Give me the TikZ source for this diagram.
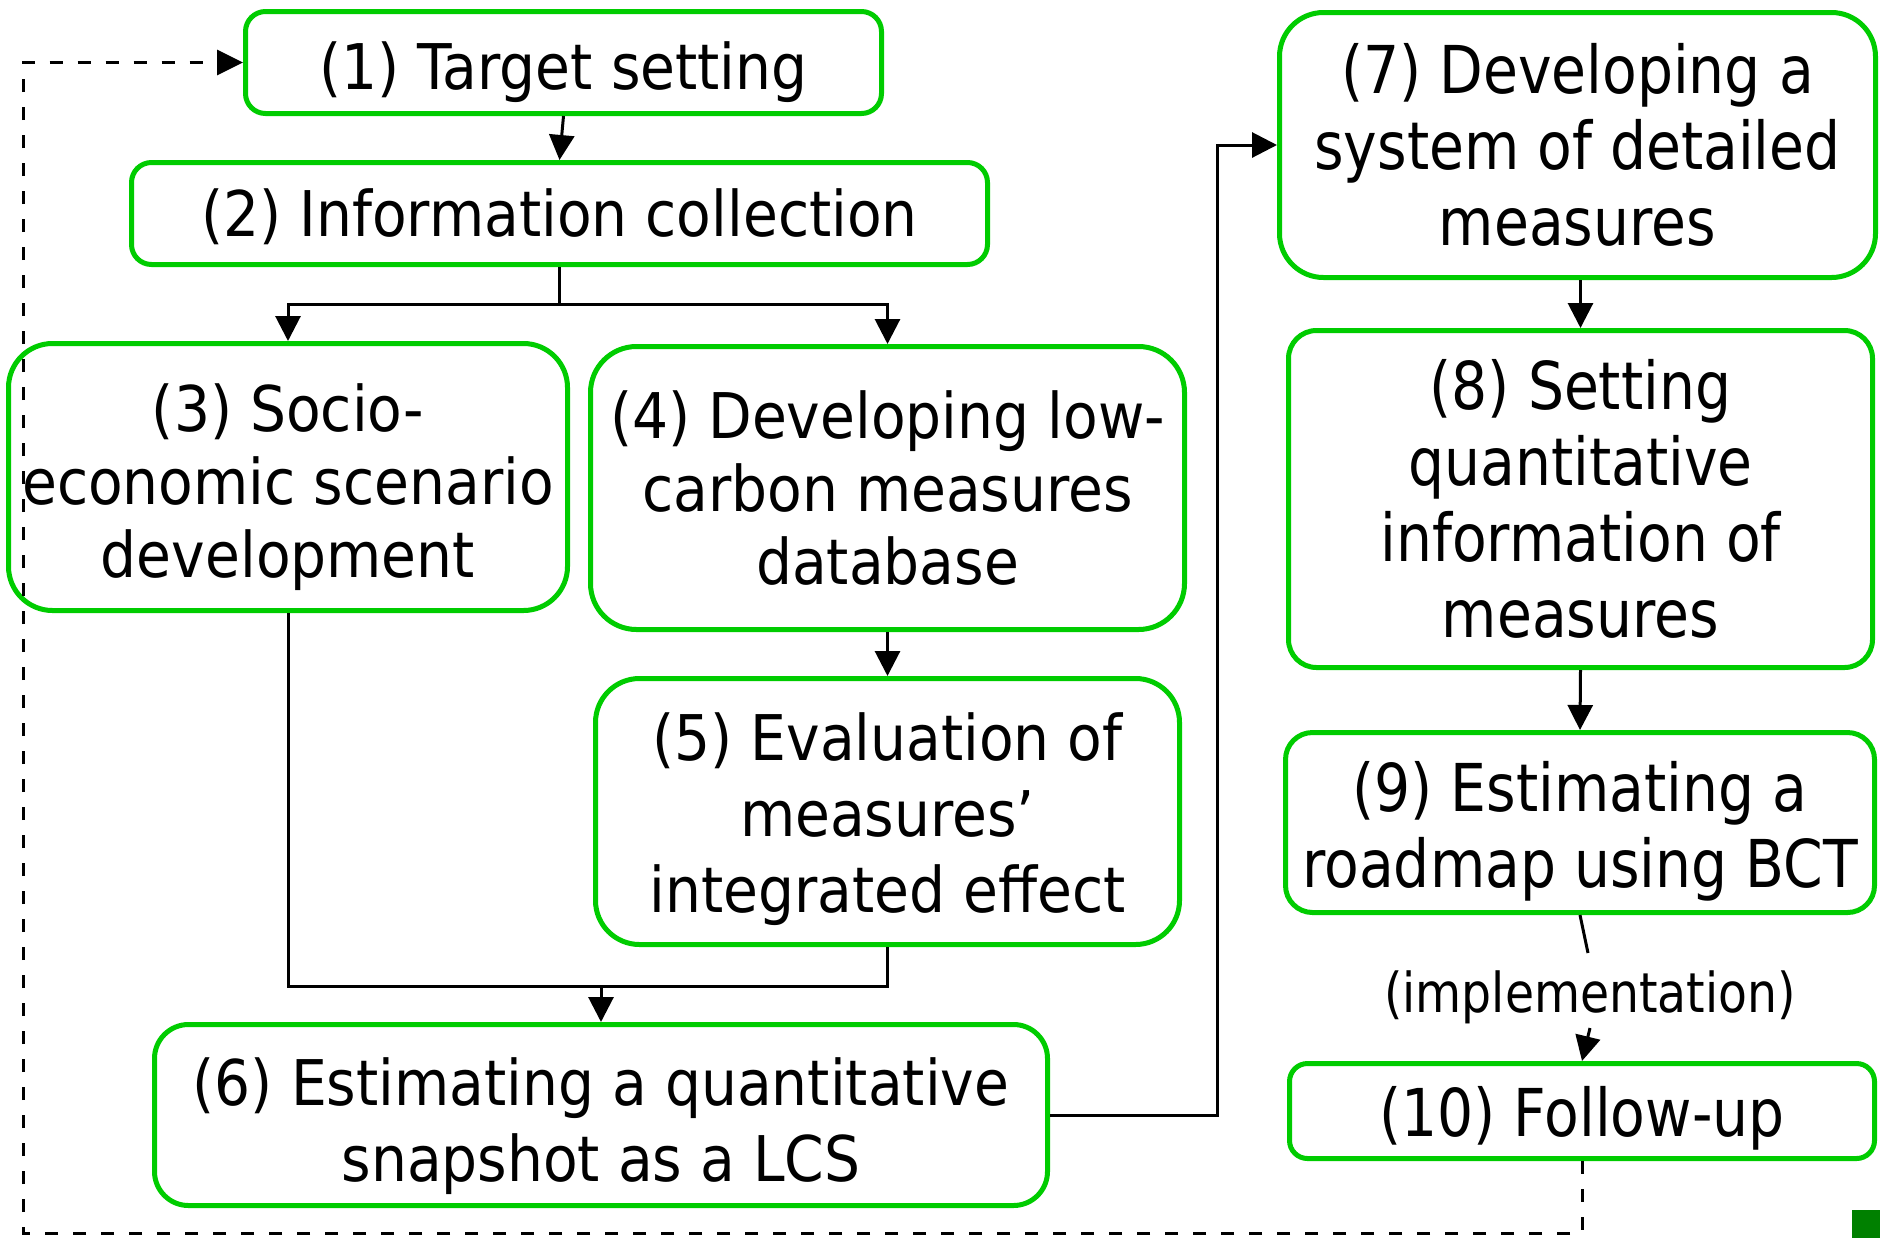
\documentclass[tikz,border=0pt]{standalone}
\usepackage{fontspec}
\setmainfont{DejaVu Sans}
\newfontfamily\lfam{DejaVu Sans}[FakeStretch=0.9]
\newfontfamily\rfam{DejaVu Sans}[FakeStretch=0.86]
\usetikzlibrary{arrows.meta}
\definecolor{boxgreen}{RGB}{0,204,0}
\definecolor{dkgreen}{RGB}{0,128,0}
\newcommand\tup[1]{\rule{0pt}{\dimexpr0.76em+#1*2\relax}}
\begin{document}
\begin{tikzpicture}[x=0.5pt,y=-0.5pt,
  box/.style={draw=boxgreen, line width=2.5pt, fill=white, align=center, inner sep=0pt},
  lft/.style={font=\lfam\fontsize{31.5}{36.5}\selectfont},
  lftw/.style={font=\lfam\fontsize{31.5}{38}\selectfont},
  rgt/.style={font=\rfam\fontsize{33}{38}\selectfont},
  conn/.style={draw=black, line width=1.5pt},
  arr/.style={conn, -{Triangle[length=12.5pt,width=12.5pt]}},
  dconn/.style={draw=black, line width=1.5pt, dash pattern=on 6.5pt off 7.5pt, -{Triangle[length=13pt,width=12.5pt]}}
]
\useasboundingbox (0,0) rectangle (1880,1238);

% left column
\node[box, lft, minimum width=318pt, minimum height=51pt, rounded corners=10pt] (n1) at (563.5,62.5) {\tup{4.8pt}(1) Target setting};
\node[box, lft, minimum width=428pt, minimum height=51pt, rounded corners=10pt] (n2) at (559.5,213.5) {\tup{1.8pt}(2) Information collection};
\node[box, lft, minimum width=279.5pt, minimum height=133.5pt, rounded corners=22pt] (n3) at (288,477) {\tup{5.1pt}(3) Socio-\\economic scenario\\development};
\node[box, lft, minimum width=297pt, minimum height=141.5pt, rounded corners=23pt] (n4) at (887.5,488) {(4) Developing low-\\carbon measures\\database};
\node[box, lftw, minimum width=292pt, minimum height=133pt, rounded corners=22pt] (n5) at (887.5,811.5) {\tup{3.9pt}(5) Evaluation of\\measures’\\integrated effect};
\node[box, lftw, minimum width=446.5pt, minimum height=90.5pt, rounded corners=17pt] (n6) at (601,1115) {\tup{5.7pt}(6) Estimating a quantitative\\snapshot as a LCS};

% right column
\node[box, rgt, minimum width=298pt, minimum height=132.5pt, rounded corners=22pt] (n7) at (1577.5,145) {(7) Developing a\\system of detailed\\measures};
\node[box, rgt, minimum width=292pt, minimum height=168.5pt, rounded corners=14pt] (n8) at (1580.5,499) {(8) Setting\\quantitative\\information of\\measures};
\node[box, rgt, minimum width=294.5pt, minimum height=90pt, rounded corners=13.5pt] (n9) at (1580,822.5) {\tup{4.2pt}(9) Estimating a\\roadmap using BCT};
\node[box, rgt, minimum width=292.5pt, minimum height=47.5pt, rounded corners=9pt] (n10) at (1582,1111) {\tup{3.6pt}(10) Follow-up};

\node[font=\rfam\fontsize{27.5}{32}\selectfont, inner sep=0pt] (lbl) at (1590,997) {(implementation)};

% connectors
\draw[arr] (n1.south) -- (n2.north);
\coordinate (split) at (559.5,304);
\draw[conn] (n2.south) -- (split);
\draw[arr] (split) -| (n3.north);
\draw[arr] (split) -| (n4.north);
\draw[arr] (n4.south) -- (n5.north);
\coordinate (merge) at (601,986);
\draw[conn] (n3.south) |- (merge);
\draw[conn] (n5.south) |- (merge);
\draw[arr] (merge) -- (n6.north);
\coordinate (c67) at (1217,600);
\draw[arr] (n6.east) -| (c67) |- (n7.west);
\draw[arr] (n7.south -| n8.north) -- (n8.north);
\draw[arr] (n8.south) -- (n9.north);
\coordinate (i1) at (1588,953);
\coordinate (i2) at (1590,1028);
\draw[conn] (n9.south) -- (i1);
\draw[arr] (i2) -- (n10.north);

% feedback dashed loop
\coordinate (dl) at (23,1233);
\draw[dconn] (n10.south) |- (dl) |- (n1.west);

\fill[dkgreen] (1852,1210) rectangle (1880,1238);
\end{tikzpicture}
\end{document}
